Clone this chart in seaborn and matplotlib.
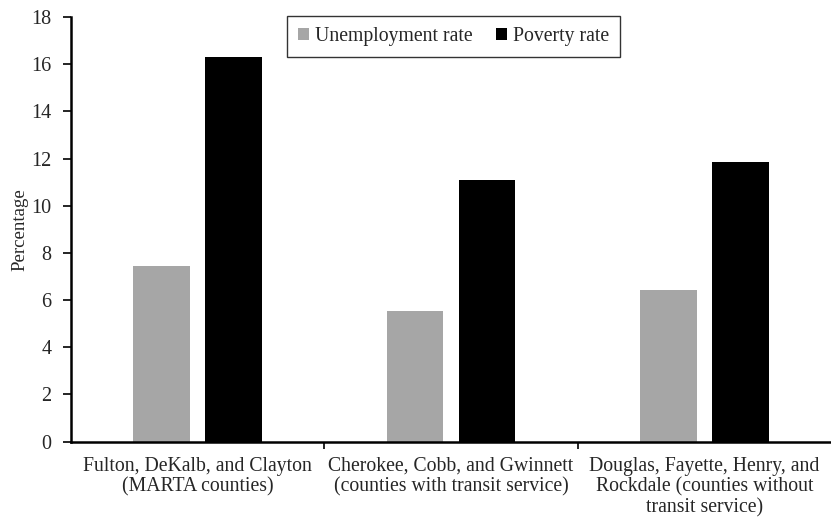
#!/usr/bin/env python3
"""Unemployment and poverty rates by county group (grouped bars)."""

import matplotlib
matplotlib.use("Agg")
import matplotlib.pyplot as plt
from matplotlib.ticker import FixedLocator
import pandas as pd
import seaborn as sns

# data
groups = [
    "Fulton, DeKalb, and Clayton\n(MARTA counties)",
    "Cherokee, Cobb, and Gwinnett\n(counties with transit service)",
    "Douglas, Fayette, Henry, and\nRockdale (counties without\ntransit service)",
]
series = ["Unemployment rate", "Poverty rate"]
unemployment = [7.44, 5.55, 6.41]
poverty = [16.29, 11.09, 11.84]
yticks = [0, 2, 4, 6, 8, 10, 12, 14, 16, 18]

df = pd.DataFrame({
    "group": groups * 2,
    "series": [series[0]] * 3 + [series[1]] * 3,
    "value": unemployment + poverty,
})

sns.set_style("white")
plt.rcParams["font.family"] = ["Liberation Serif", "DejaVu Serif"]

fig = plt.figure(figsize=(8.31, 5.19), dpi=100)
ax = fig.add_axes([0.0854, 0.149, 0.9146, 0.818])

sns.barplot(
    data=df, x="group", y="value", hue="series",
    order=groups, hue_order=series,
    palette=["#a6a6a6", "#000000"],
    width=0.567, gap=0.21, linewidth=0, errorbar=None, ax=ax,
)

ax.set_xlim(-0.5, 2.5)
ax.set_ylim(0, 18)
ax.set_yticks(yticks)
ax.tick_params(axis="y", direction="out", length=6, width=1.2,
               labelsize=14.5, left=True, pad=8, color="black")
ax.tick_params(axis="x", which="major", length=0, labelsize=14.2, pad=11)
ax.xaxis.set_minor_locator(FixedLocator([0.5, 1.5]))
ax.tick_params(axis="x", which="minor", direction="out", length=5,
               width=1.2, bottom=True, color="black")
for lab in ax.get_xticklabels():
    lab.set_linespacing(1.12)
ax.set_xlabel("")
ax.set_ylabel("Percentage", fontsize=13.6, labelpad=2)

for side in ["top", "right"]:
    ax.spines[side].set_visible(False)
for side in ["left", "bottom"]:
    ax.spines[side].set_color("black")
    ax.spines[side].set_linewidth(1.8)

leg = ax.legend(
    loc="upper center", bbox_to_anchor=(0.503, 1.003), ncol=2,
    frameon=True, fancybox=False, edgecolor="black", fontsize=14.2,
    handlelength=0.55, handleheight=0.55, handletextpad=0.3,
    columnspacing=1.2, borderpad=0.55, borderaxespad=0.0,
)
leg.get_frame().set_linewidth(1.0)

fig.savefig("out.png", dpi=100)
